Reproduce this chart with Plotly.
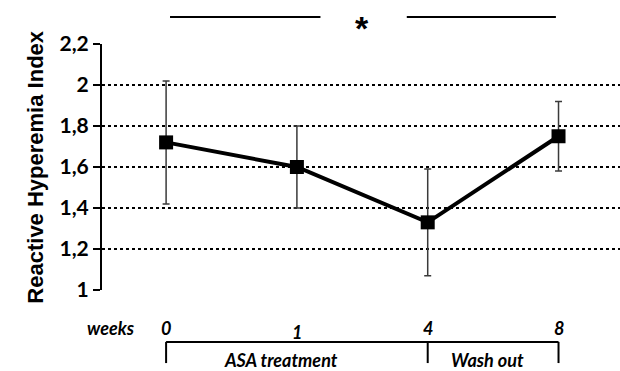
import plotly.graph_objects as go

# ---- data ----
weeks = ["0", "1", "4", "8"]
rhi_mean = [1.72, 1.60, 1.33, 1.75]
rhi_err = [0.30, 0.20, 0.26, 0.17]
y_tick_vals = [1.0, 1.2, 1.4, 1.6, 1.8, 2.0, 2.2]
y_tick_text = ["1", "1,2", "1,4", "1,6", "1,8", "2", "2,2"]
y_title = "Reactive Hyperemia Index"
phase_labels = ["ASA treatment", "Wash out"]
x_label = "weeks"

x_idx = list(range(len(weeks)))

fig = go.Figure()
fig.add_trace(go.Scatter(
    x=x_idx, y=rhi_mean,
    mode="lines+markers",
    line=dict(color="black", width=4),
    marker=dict(symbol="square", size=14, color="black"),
    error_y=dict(type="data", array=rhi_err, visible=True,
                 color="#3a3a3a", thickness=1.5, width=3.5),
    cliponaxis=False,
    showlegend=False,
))

tick_font = dict(family="Lato", size=21, color="black", weight="bold")
it_font = dict(family="Lato", size=18, color="black", weight="bold", style="italic")

fig.update_layout(
    width=620, height=371,
    margin=dict(l=102, r=0, t=44, b=81),
    paper_bgcolor="white", plot_bgcolor="white",
    xaxis=dict(range=[-0.49, 3.47], showgrid=False, zeroline=False,
               showline=False, showticklabels=False, ticks=""),
    yaxis=dict(range=[1, 2.2], tickvals=y_tick_vals, ticktext=y_tick_text,
               showgrid=True, gridcolor="black", gridwidth=1.5, griddash="dot",
               zeroline=False, showline=True, linecolor="black", linewidth=2,
               ticks="outside", ticklen=7, tickwidth=1.5, tickcolor="black",
               tickfont=tick_font, automargin=False),
)

ann = []
# y title
ann.append(dict(xref="paper", yref="paper", x=-0.158, y=0.5, text=y_title,
                textangle=-90, showarrow=False,
                font=dict(family="Liberation Sans", size=22, color="black", weight="bold")))
# week tick labels
for i, w in enumerate(weeks):
    ann.append(dict(xref="x", yref="paper", x=i, y=(-0.171 if w == "1" else -0.154),
                    text=w, showarrow=False, font=it_font, yanchor="middle"))
ann.append(dict(xref="x", yref="paper", x=-0.42, y=-0.154, text=x_label,
                showarrow=False, font=it_font, yanchor="middle"))
# phase labels
ann.append(dict(xref="x", yref="paper", x=0.88, y=-0.285, text=phase_labels[0],
                showarrow=False, font=it_font, yanchor="middle"))
ann.append(dict(xref="x", yref="paper", x=2.46, y=-0.285, text=phase_labels[1],
                showarrow=False, font=it_font, yanchor="middle"))
# asterisk
ann.append(dict(xref="x", yref="paper", x=1.5, y=1.065, text="*",
                showarrow=False, yanchor="middle",
                font=dict(family="Liberation Sans", size=34, color="black", weight="bold")))
fig.update_layout(annotations=ann)

shapes = []
line_style = dict(color="black", width=2)
# significance bars
shapes.append(dict(type="line", xref="x", yref="paper", x0=0.03, x1=1.18,
                   y0=1.11, y1=1.11, line=line_style))
shapes.append(dict(type="line", xref="x", yref="paper", x0=1.84, x1=2.98,
                   y0=1.11, y1=1.11, line=line_style))
# bracket
shapes.append(dict(type="line", xref="x", yref="paper", x0=0, x1=len(weeks) - 1,
                   y0=-0.211, y1=-0.211, line=line_style))
for i in [0, 2, 3]:
    shapes.append(dict(type="line", xref="x", yref="paper", x0=i, x1=i,
                       y0=-0.211, y1=-0.297, line=line_style))
fig.update_layout(shapes=shapes)

fig.write_html("out.html", config={"displayModeBar": False},
               post_script="document.body.style.margin='0';document.body.style.overflow='hidden';")
